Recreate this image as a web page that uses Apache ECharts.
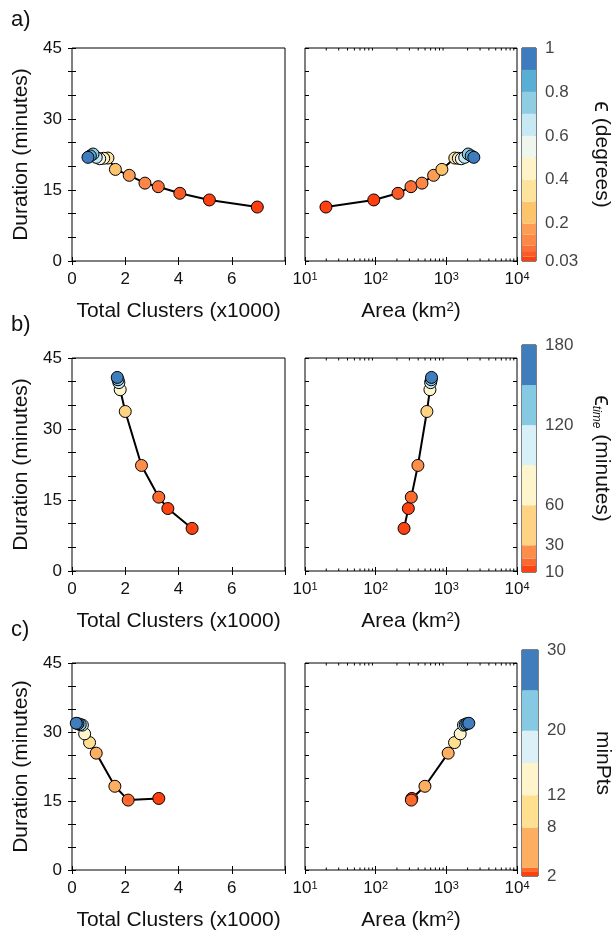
<!DOCTYPE html>
<html><head><meta charset="utf-8">
<script src="https://cdn.jsdelivr.net/npm/echarts@6/dist/echarts.min.js"></script>
<style>html,body{margin:0;padding:0;background:#fff}#c{width:615px;height:932px}</style>
</head><body><div id="c"></div><script>
// ---------------- data ----------------
const durationTicks = [0, 15, 30, 45];
const clusterTicks = [0, 2, 4, 6];
const areaDecades = [1, 2, 3, 4];

// panel a : epsilon (degrees)
const epsA       = [0.03, 0.05, 0.075, 0.1, 0.15, 0.2, 0.3, 0.4, 0.5, 0.6, 0.7, 0.8, 0.9, 1.0];
const clustersA  = [6.96, 5.16, 4.05, 3.24, 2.74, 2.15, 1.63, 1.35, 1.19, 1.04, 0.91, 0.79, 0.69, 0.60];
const areaA      = [19.8, 94, 207, 316, 452, 661, 865, 1318, 1480, 1630, 1820, 2040, 2250, 2450];
const durationA  = [11.4, 12.9, 14.3, 15.7, 16.45, 18.1, 19.35, 21.75, 21.7, 21.6, 21.9, 22.6, 22.2, 21.9];
const cbEdgesA   = [0.03, 0.05, 0.075, 0.1, 0.15, 0.2, 0.3, 0.4, 0.5, 0.6, 0.7, 0.8, 0.9, 1.0];
const cbColorsA  = ['#fe3f10','#f95a26','#fa7038','#fc8747','#fd9c55','#fdc46c','#fee39c','#fff4c8','#eef6ee','#c6e9f4','#8fcde3','#5aaed6','#3e7cbf'];
const cbTickValsA = [0.03, 0.2, 0.4, 0.6, 0.8, 1];
const cbTickTextA = ['0.03', '0.2', '0.4', '0.6', '0.8', '1'];

// panel b : epsilon_time (minutes)
const epsTimeB   = [10, 15, 20, 30, 60, 90, 120, 150, 180];
const clustersB  = [4.51, 3.60, 3.26, 2.61, 2.00, 1.81, 1.76, 1.73, 1.70];
const areaB      = [252, 290, 319, 396, 531, 586, 599, 612, 617];
const durationB  = [9.0, 13.2, 15.6, 22.3, 33.7, 38.3, 39.8, 40.4, 40.9];
const cbEdgesB   = [10, 15, 20, 30, 60, 90, 120, 150, 180];
const cbColorsB  = ['#fe4312','#fa6a2e','#fc8d4a','#fed383','#fff5cc','#d8f0f7','#86c9e2','#3f7dbd'];
const cbTickValsB = [10, 30, 60, 120, 180];
const cbTickTextB = ['10', '30', '60', '120', '180'];

// panel c : minPts
const minPtsC    = [2, 3, 4, 8, 12, 16, 20, 25, 28, 30];
const clustersC  = [3.26, 2.11, 1.61, 0.91, 0.66, 0.475, 0.39, 0.31, 0.225, 0.16];
const areaC      = [325, 320, 498, 1062, 1306, 1571, 1750, 1850, 1950, 2080];
const durationC  = [15.56, 15.2, 18.2, 25.4, 27.7, 29.6, 31.5, 31.6, 31.8, 31.9];
const cbEdgesC   = [2, 2.5, 3, 8, 12, 16, 20, 25, 30];
const cbColorsC  = ['#fe3f10','#fb6a2c','#fdae61','#fee090','#fff5cc','#dbf0f7','#86c9e2','#3f7dbd'];
const cbTickValsC = [2, 8, 12, 20, 30];
const cbTickTextC = ['2', '8', '12', '20', '30'];

// ---------------- helpers ----------------
function colorFor(v, edges, colors) {
  for (let i = 0; i < colors.length; i++) if (v <= edges[i + 1]) return colors[i];
  return colors[colors.length - 1];
}

const FONT = '"Liberation Sans", Arial, Helvetica, sans-serif';
const TXT = '#111';
const panels = [
  {label: 'a)', param: epsA, clusters: clustersA, area: areaA, dur: durationA, edges: cbEdgesA, colors: cbColorsA,
   tv: cbTickValsA, tt: cbTickTextA, title: '{e|ϵ} (degrees)'},
  {label: 'b)', param: epsTimeB, clusters: clustersB, area: areaB, dur: durationB, edges: cbEdgesB, colors: cbColorsB,
   tv: cbTickValsB, tt: cbTickTextB, title: '{e|ϵ}{s|time} (minutes)'},
  {label: 'c)', param: minPtsC, clusters: clustersC, area: areaC, dur: durationC, edges: cbEdgesC, colors: cbColorsC,
   tv: cbTickValsC, tt: cbTickTextC, title: 'minPts'}
];

const rowTop = [48, 358, 663];
const labelTop = [4, 309, 614];
const cbTop = [48, 345, 650];
const cbH = [213, 227, 226];
const H = 213;
const grids = [], xAxes = [], yAxes = [], series = [], titles = [];
const tickStyle = {show: true, inside: true, length: 4, lineStyle: {color: '#000', width: 1}};
const labelStyle = {color: TXT, fontSize: 17, fontFamily: FONT};
const nameStyle = {color: TXT, fontSize: 21, fontFamily: FONT};
const minorLog = [];
for (let d = 1; d < 4; d++) for (let m = 2; m <= 9; m++) minorLog.push([m * Math.pow(10, d), 0]);

panels.forEach((p, r) => {
  const top = rowTop[r];
  titles.push({text: p.label, left: 6, top: labelTop[r], textStyle: {fontSize: 22, fontWeight: 'normal', color: TXT, fontFamily: FONT}});
  const gL = grids.length;
  grids.push({left: 72, top: top, width: 213, height: H, show: true, borderColor: '#000', borderWidth: 1, backgroundColor: 'transparent'});
  grids.push({left: 305, top: top, width: 212, height: H, show: true, borderColor: '#000', borderWidth: 1, backgroundColor: 'transparent'});
  grids.push({left: 522, top: cbTop[r], width: 16, height: cbH[r], show: true, borderColor: '#000', borderWidth: 1, backgroundColor: 'transparent'});

  // ---- left grid axes
  const xL = xAxes.length;
  xAxes.push({gridIndex: gL, type: 'value', min: 0, max: 8, interval: 2, position: 'bottom',
    axisLine: {show: false}, axisTick: tickStyle, splitLine: {show: false},
    axisLabel: Object.assign({margin: 10, formatter: v => clusterTicks.indexOf(v) >= 0 ? String(v) : ''}, labelStyle),
    name: 'Total Clusters (x1000)', nameLocation: 'middle', nameGap: 40, nameTextStyle: nameStyle});
  xAxes.push({gridIndex: gL, type: 'value', min: 0, max: 8, interval: 2, position: 'top',
    axisLine: {show: false}, axisTick: tickStyle, splitLine: {show: false}, axisLabel: {show: false}});
  const yL = yAxes.length;
  yAxes.push({gridIndex: gL, type: 'value', min: 0, max: 45, interval: 5, position: 'left',
    axisLine: {show: false}, axisTick: tickStyle, splitLine: {show: false},
    axisLabel: Object.assign({margin: 10, formatter: v => durationTicks.indexOf(v) >= 0 ? String(v) : ''}, labelStyle),
    name: 'Duration (minutes)', nameLocation: 'middle', nameGap: 40, nameRotate: 90, nameTextStyle: nameStyle});
  yAxes.push({gridIndex: gL, type: 'value', min: 0, max: 45, interval: 5, position: 'right',
    axisLine: {show: false}, axisTick: tickStyle, splitLine: {show: false}, axisLabel: {show: false}});

  // ---- right grid axes
  const xR = xAxes.length;
  xAxes.push({gridIndex: gL + 1, type: 'log', logBase: 10, min: 10, max: 10000, position: 'bottom',
    axisLine: {show: false}, axisTick: tickStyle, splitLine: {show: false},
    axisLabel: Object.assign({margin: 10, formatter: v => {
      const e = Math.round(Math.log10(v));
      return areaDecades.indexOf(e) >= 0 ? '10{s|' + e + '}' : '';
    }, rich: {s: {fontSize: 11, verticalAlign: 'top', color: TXT, fontFamily: FONT, padding: [0, 0, 6, 0]}}}, labelStyle),
    name: 'Area (km{s|2})', nameLocation: 'middle', nameGap: 40,
    nameTextStyle: Object.assign({rich: {s: {fontSize: 13, verticalAlign: 'top', color: TXT, fontFamily: FONT, padding: [0, 0, 8, 0]}}}, nameStyle)});
  xAxes.push({gridIndex: gL + 1, type: 'log', logBase: 10, min: 10, max: 10000, position: 'top',
    axisLine: {show: false}, axisTick: tickStyle, splitLine: {show: false}, axisLabel: {show: false}});
  const yR = yAxes.length;
  yAxes.push({gridIndex: gL + 1, type: 'value', min: 0, max: 45, interval: 5, position: 'left',
    axisLine: {show: false}, axisTick: tickStyle, splitLine: {show: false}, axisLabel: {show: false}});
  yAxes.push({gridIndex: gL + 1, type: 'value', min: 0, max: 45, interval: 5, position: 'right',
    axisLine: {show: false}, axisTick: tickStyle, splitLine: {show: false}, axisLabel: {show: false}});

  // ---- colorbar axes (linear in the parameter)
  const lo = p.edges[0], hi = p.edges[p.edges.length - 1];
  const xC = xAxes.length;
  xAxes.push({gridIndex: gL + 2, type: 'value', min: 0, max: 1, show: false});
  const yC = yAxes.length;
  yAxes.push({gridIndex: gL + 2, type: 'value', min: lo, max: hi, position: 'right',
    axisLine: {show: false}, axisTick: {show: false}, splitLine: {show: false}, axisLabel: {show: false},
    name: p.title, nameLocation: 'middle', nameGap: 54, nameRotate: -90,
    nameTextStyle: Object.assign({rich: {
      e: {fontSize: 24, color: TXT, fontFamily: FONT},
      s: {fontSize: 12, fontStyle: 'italic', verticalAlign: 'bottom', color: TXT, fontFamily: FONT}
    }}, nameStyle)});

  // ---- series: lines + points
  const ptsL = p.clusters.map((x, i) => ({value: [x, p.dur[i]], itemStyle: {color: colorFor(p.param[i], p.edges, p.colors)}}));
  const ptsR = p.area.map((x, i) => ({value: [x, p.dur[i]], itemStyle: {color: colorFor(p.param[i], p.edges, p.colors)}}));
  series.push({type: 'line', xAxisIndex: xL, yAxisIndex: yL, data: p.clusters.map((x, i) => [x, p.dur[i]]),
    showSymbol: false, symbol: 'none', lineStyle: {color: '#000', width: 2}, z: 2, silent: true});
  series.push({type: 'scatter', xAxisIndex: xL, yAxisIndex: yL, data: ptsL, symbolSize: 12,
    itemStyle: {borderColor: '#000', borderWidth: 1, opacity: 1}, z: 3});
  series.push({type: 'line', xAxisIndex: xR, yAxisIndex: yR, data: p.area.map((x, i) => [x, p.dur[i]]),
    showSymbol: false, symbol: 'none', lineStyle: {color: '#000', width: 2}, z: 2, silent: true});
  series.push({type: 'scatter', xAxisIndex: xR, yAxisIndex: yR, data: ptsR, symbolSize: 12,
    itemStyle: {borderColor: '#000', borderWidth: 1, opacity: 1}, z: 3});
  // minor log ticks
  series.push({type: 'custom', xAxisIndex: xR, yAxisIndex: yR, data: minorLog, silent: true, z: 4,
    renderItem: (params, api) => {
      const b = api.coord([api.value(0), 0]);
      const t = api.coord([api.value(0), 45]);
      return {type: 'group', children: [
        {type: 'line', shape: {x1: b[0], y1: b[1], x2: b[0], y2: b[1] - 2.5}, style: {stroke: '#000', lineWidth: 1}},
        {type: 'line', shape: {x1: t[0], y1: t[1], x2: t[0], y2: t[1] + 2.5}, style: {stroke: '#000', lineWidth: 1}}
      ]};
    }});

  // colorbar bands
  const bands = p.colors.map((c, i) => [p.edges[i], p.edges[i + 1], i]);
  const cols = p.colors;
  series.push({type: 'custom', xAxisIndex: xC, yAxisIndex: yC, data: bands, silent: true,
    encode: {x: -1, y: [0, 1]},
    renderItem: (params, api) => {
      const p0 = api.coord([0, api.value(0)]);
      const p1 = api.coord([1, api.value(1)]);
      return {type: 'rect', shape: {x: p0[0], y: p1[1], width: p1[0] - p0[0], height: p0[1] - p1[1]},
        style: {fill: cols[api.value(2)]}};
    }});
  // colorbar tick labels
  series.push({type: 'scatter', xAxisIndex: xC, yAxisIndex: yC, symbolSize: 0, silent: true,
    data: p.tv.map((v, i) => ({value: [1, v], name: p.tt[i]})),
    label: Object.assign({show: true, position: 'right', distance: 9, formatter: '{b}'}, labelStyle)});
});

const chart = echarts.init(document.getElementById('c'));
chart.setOption({
  animation: false,
  backgroundColor: '#fff',
  title: titles,
  grid: grids,
  xAxis: xAxes,
  yAxis: yAxes,
  series: series
});
</script></body></html>
